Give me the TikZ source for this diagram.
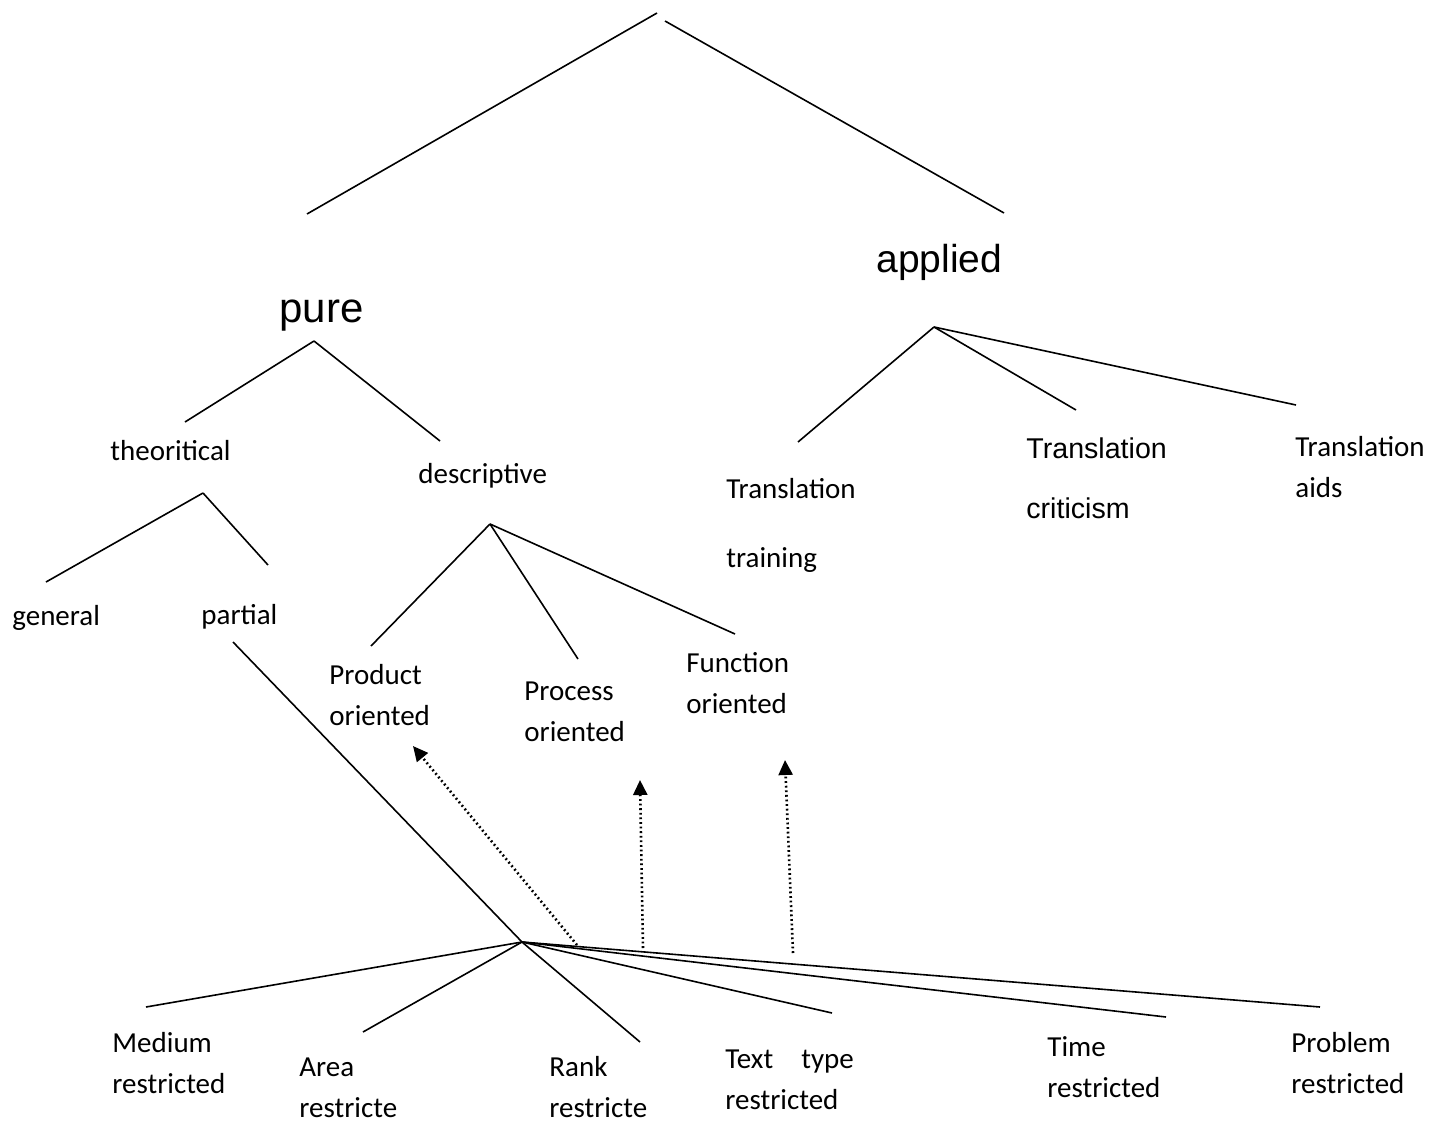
\documentclass[tikz,border=0pt]{standalone}
\usepackage{fontspec}
\setmainfont{Carlito}
\newfontfamily\arialfont{Liberation Sans}
\usetikzlibrary{arrows.meta}

\begin{document}
\begin{tikzpicture}[x=0.5pt, y=-0.5pt,
    lbl/.style={font=\fontsize{14.5}{20.5}\selectfont, align=left, inner sep=0pt, anchor=base west},
    big/.style={font=\arialfont\fontsize{21}{24}\selectfont, inner sep=0pt, anchor=base west},
    branch/.style={line width=0.8pt},
    pointer/.style={line width=1.3pt, dash pattern=on 0.9pt off 1.4pt, -{Triangle[width=7pt,length=7.5pt]}}]
      \useasboundingbox (0,0) rectangle (1429,1124);
      \node [big] (pure) at (279,322) {pure};
      \node [big, font=\arialfont\fontsize{19.5}{24}\selectfont] (applied) at (876,272) {applied};
      \node [lbl] (theo) at (110,460) {theoritical};
      \node [lbl] (desc) at (418,483) {descriptive};
      \node [lbl] (train) at (726,567) {Translation\\[14pt]training};
      \node [lbl, font=\arialfont\fontsize{14.3}{20.5}\selectfont] (crit) at (1026,518) {Translation\\[9.5pt]criticism};
      \node [lbl] (aids) at (1295,497) {Translation\\aids};
      \node [lbl] (gen) at (12,625) {general};
      \node [lbl] (part) at (201,624) {partial};
      \node [lbl] (prod) at (329,725) {Product\\oriented};
      \node [lbl] (proc) at (524,741) {Process\\oriented};
      \node [lbl] (func) at (686,713) {Function\\oriented};
      \node [lbl] (med) at (112,1093) {Medium\\restricted};
      \node [lbl] (area) at (299,1117) {Area\\restricte};
      \node [lbl] (rank) at (549,1117) {Rank\\restricte};
      \node [lbl] (text) at (725,1109) {Text\hspace{14pt}type\\restricted};
      \node [lbl] (time) at (1047,1097) {Time\\restricted};
      \node [lbl] (prob) at (1291,1093) {Problem\\restricted};

      \coordinate (top-l) at (657,13);
      \coordinate (top-r) at (665,21);
      \coordinate (pure-in) at (307,214);
      \coordinate (appl-in) at (1004,213);
      \coordinate (pure-out) at (314,341);
      \coordinate (theo-in) at (185,422);
      \coordinate (desc-in) at (440,441);
      \coordinate (appl-out) at (934,327);
      \coordinate (train-in) at (798,442);
      \coordinate (crit-in) at (1076,410);
      \coordinate (aids-in) at (1296,405);
      \coordinate (theo-out) at (203,493);
      \coordinate (gen-in) at (46,582);
      \coordinate (part-in) at (268,565);
      \coordinate (desc-out) at (490,524);
      \coordinate (prod-in) at (371,646);
      \coordinate (proc-in) at (578,659);
      \coordinate (func-in) at (735,634);
      \coordinate (part-out) at (233,642);
      \coordinate (hub) at (522,942);
      \coordinate (med-in) at (146,1007);
      \coordinate (area-in) at (363,1032);
      \coordinate (rank-in) at (640,1042);
      \coordinate (text-in) at (832,1013);
      \coordinate (time-in) at (1166,1017);
      \coordinate (prob-in) at (1320,1007);
      \coordinate (arr-a) at (577,945);
      \coordinate (arr-b) at (643,948);
      \coordinate (arr-c) at (793,953);
      \coordinate (prod-at) at (413,746);
      \coordinate (proc-at) at (640,780);
      \coordinate (func-at) at (785,760);

      \draw [branch] (top-l) -- (pure-in);
      \draw [branch] (top-r) -- (appl-in);
      \draw [branch] (pure-out) -- (theo-in);
      \draw [branch] (pure-out) -- (desc-in);
      \draw [branch] (appl-out) -- (train-in);
      \draw [branch] (appl-out) -- (crit-in);
      \draw [branch] (appl-out) -- (aids-in);
      \draw [branch] (theo-out) -- (gen-in);
      \draw [branch] (theo-out) -- (part-in);
      \draw [branch] (desc-out) -- (prod-in);
      \draw [branch] (desc-out) -- (proc-in);
      \draw [branch] (desc-out) -- (func-in);
      \draw [branch] (part-out) -- (hub);
      \draw [branch] (hub) -- (med-in);
      \draw [branch] (hub) -- (area-in);
      \draw [branch] (hub) -- (rank-in);
      \draw [branch] (hub) -- (text-in);
      \draw [branch] (hub) -- (time-in);
      \draw [branch] (hub) -- (prob-in);
      \draw [pointer] (arr-a) -- (prod-at);
      \draw [pointer] (arr-b) -- (proc-at);
      \draw [pointer] (arr-c) -- (func-at);
    \end{tikzpicture}
\end{document}
